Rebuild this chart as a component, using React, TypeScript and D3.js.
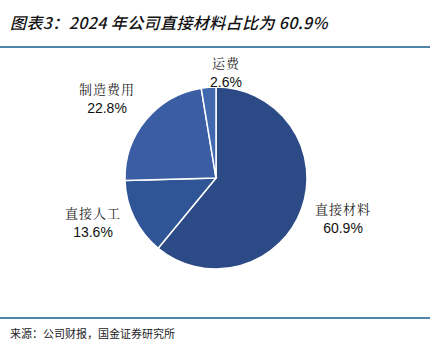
import React from 'react'
import * as d3 from 'd3'

const categories = ['直接材料', '直接人工', '制造费用', '运费']
const shares = [60.9, 13.6, 22.8, 2.6]
const colors = ['#2c4a86', '#2f5596', '#3a5da4', '#4169b0']
const labelPos = [
  [343, 214],
  [93, 218],
  [107, 94],
  [226, 68],
]

const W = 441, H = 351
const cx = 216, cy = 178, r = 91

export default function App() {
  const pie = d3.pie<number>().sort(null).value(d => d)
  const arcs = pie(shares)
  const arc = d3.arc<d3.PieArcDatum<number>>().innerRadius(0).outerRadius(r)

  return (
    <svg width={W} height={H} style={{ position: 'absolute', left: 0, top: 0 }}>
      <rect width={W} height={H} fill='#fff' />
      <text x={10} y={29} fontSize={16} fontStyle='italic' fontWeight={500} letterSpacing={0.4}
        fontFamily='"Noto Sans CJK SC", sans-serif' fill='#111'>
        图表3：2024 年公司直接材料占比为 60.9%
      </text>
      <line x1={0} x2={430} y1={47} y2={47} stroke='#4f86a6' strokeWidth={2} />

      <g transform={`translate(${cx},${cy})`}>
        {arcs.map((a, i) => (
          <path key={i} d={arc(a) || ''} fill={colors[i]} stroke='#fff' strokeWidth={1.5} />
        ))}
      </g>

      {categories.map((c, i) => (
        <g key={c} textAnchor='middle'>
          <text x={labelPos[i][0]} y={labelPos[i][1]} fontSize={13} letterSpacing={1}
            fontFamily='"Noto Serif CJK SC", "Noto Sans CJK SC", serif' fill='#222'>{c}</text>
          <text x={labelPos[i][0]} y={labelPos[i][1] + 19} fontSize={14}
            fontFamily='"Liberation Sans", Arial, sans-serif' fill='#111'>{shares[i].toFixed(1)}%</text>
        </g>
      ))}

      <line x1={0} x2={430} y1={318} y2={318} stroke='#4f86a6' strokeWidth={2} />
      <text x={10} y={338} fontSize={11}
        fontFamily='"Noto Sans CJK SC", sans-serif' fill='#222'>
        来源：公司财报，国金证券研究所
      </text>
    </svg>
  )
}
